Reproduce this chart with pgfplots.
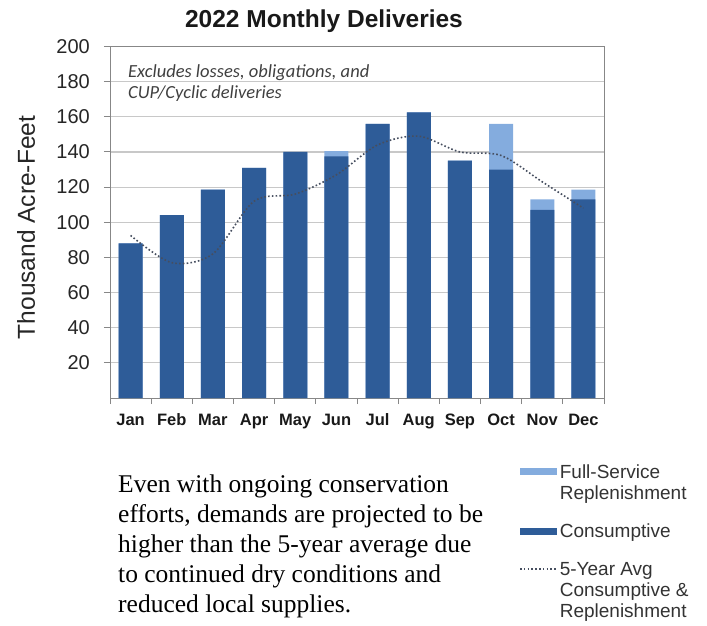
\documentclass[border=0pt]{standalone}
\usepackage{pgfplots}
\pgfplotsset{compat=1.18}
\usepackage{fontspec}
\setmainfont{Liberation Serif}
\newfontfamily\arial{Liberation Sans}
\newfontfamily\calibri{Carlito}
\definecolor{darkbar}{RGB}{46,92,152}
\definecolor{lightbar}{RGB}{132,172,222}
\definecolor{gridc}{RGB}{200,200,200}
\definecolor{axisc}{RGB}{135,135,135}
\definecolor{avgline}{RGB}{70,78,95}
\begin{document}
\begin{tikzpicture}
\path[use as bounding box] (0,0) rectangle (707bp,-626bp);
\begin{axis}[
  at={(110bp,-398bp)}, anchor=south west,
  scale only axis, width=494bp, height=351.5bp,
  xmin=0.5, xmax=12.5, ymin=0, ymax=200,
  xtick={0.5,1.5,2.5,3.5,4.5,5.5,6.5,7.5,8.5,9.5,10.5,11.5,12.5},
  xticklabels={},
  extra x ticks={1,2,3,4,5,6,7,8,9,10,11,12},
  extra x tick labels={Jan,Feb,Mar,Apr,May,Jun,Jul,Aug,Sep,Oct,Nov,Dec},
  extra x tick style={major tick length=0pt, grid=none},
  ytick={20,40,60,80,100,120,140,160,180,200},
  ymajorgrids, grid style={gridc, line width=1.2bp},
  tick align=outside, tick pos=left, major tick length=6bp,
  axis line style={axisc, line width=1bp},
  tick style={axisc, line width=1bp},
  /pgf/number format/assume math mode=true,
  yticklabel style={font=\arial\fontsize{20bp}{24bp}\selectfont, text=black!85, anchor=east, inner sep=0pt, xshift=-14bp},
  xticklabel style={font=\arial\bfseries\fontsize{16.5bp}{20bp}\selectfont, text=black!90, anchor=base, inner sep=0pt, yshift=-27bp},
  ylabel={Thousand Acre-Feet},
  ylabel style={font=\arial\fontsize{24.5bp}{28bp}\selectfont, text=black!85, at={(axis description cs:-0.170,0.485)}, anchor=center},
  legend style={at={(axis description cs:0.828,-0.183)}, anchor=north west, draw=none, fill=none, inner sep=0pt,
    font=\arial\fontsize{19bp}{21bp}\selectfont, text=black!80,
    cells={anchor=base west, align=left}, row sep=19bp,
    /tikz/every even column/.append style={column sep=2bp}},
]
\addplot[ybar, bar width=24bp, bar shift=0pt, fill=lightbar, draw=none,
  legend image code/.code={\fill[lightbar] (0bp,24bp) rectangle (37bp,31bp);}]
  coordinates {(1,88) (2,104) (3,118.5) (4,131) (5,140) (6,140.5) (7,156) (8,162.5) (9,135) (10,156) (11,113) (12,118.5)};
\addlegendentry{Full-Service\\Replenishment}
\addplot[ybar, bar width=24bp, bar shift=0pt, fill=darkbar, draw=none,
  legend image code/.code={\fill[darkbar] (0bp,3bp) rectangle (37bp,10bp);}]
  coordinates {(1,88) (2,104) (3,118.5) (4,131) (5,140) (6,137.5) (7,156) (8,162.5) (9,135) (10,130) (11,107) (12,113)};
\addlegendentry{Consumptive}
\addplot[smooth, avgline, line width=1.6bp, dash pattern=on 1.6bp off 2.2bp,
  legend image code/.code={\draw[avgline, line width=1.6bp, dash pattern=on 1.6bp off 2.2bp] (0bp,48bp) -- (37bp,48bp);}]
  coordinates {(1,92.5) (2,77) (3,82) (4,112) (5,116) (6,127) (7,144) (8,149) (9,140) (10,138) (11,123) (12,108)};
\addlegendentry{5-Year Avg\\Consumptive \&\\Replenishment}
\end{axis}
\node[anchor=base, font=\arial\bfseries\fontsize{24.5bp}{28bp}\selectfont, text=black!90, inner sep=0pt] at (324bp,-27bp) {2022 Monthly Deliveries};
\node[anchor=base west, align=left, inner sep=0pt, font=\calibri\itshape\fontsize{18.5bp}{21bp}\selectfont, text=black!75] at (128bp,-98bp) {Excludes losses, obligations, and\\CUP/Cyclic deliveries};
\node[anchor=base west, align=left, inner sep=0pt, font=\fontsize{25.5bp}{30bp}\selectfont] at (118bp,-612bp) {Even with ongoing conservation\\efforts, demands are projected to be\\higher than the 5-year average due\\to continued dry conditions and\\reduced local supplies.};
\end{tikzpicture}
\end{document}
